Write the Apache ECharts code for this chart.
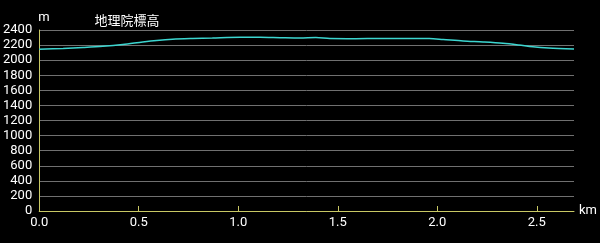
<!DOCTYPE html>
<html><head><meta charset="utf-8">
<script src="https://cdn.jsdelivr.net/npm/echarts@6/dist/echarts.min.js"></script>
<style>html,body{margin:0;padding:0;background:#000;}#c{width:600px;height:243px;}</style>
</head><body><div id="c"></div>
<script>
const distKm = [0, 0.12, 0.22, 0.32, 0.42, 0.52, 0.59, 0.67, 0.77, 0.87, 1.01, 1.11, 1.21, 1.31, 1.39, 1.46, 1.59, 1.71, 1.86, 1.96, 2.03, 2.13, 2.23, 2.33, 2.41, 2.48, 2.56, 2.687];
const elevM = [2145, 2155, 2168, 2184, 2208, 2241, 2261, 2277, 2287, 2294, 2303, 2303, 2298, 2294, 2300, 2287, 2285, 2287, 2287, 2287, 2274, 2254, 2241, 2224, 2201, 2177, 2161, 2148];
const xTicks = [0, 0.5, 1.0, 1.5, 2.0, 2.5];
const title = '地理院標高';

const chart = echarts.init(document.getElementById('c'));
const axisColor = '#c8c864';
chart.setOption({
  backgroundColor: '#000',
  animation: false,
  title: {text: title, left: 127, top: 14, textAlign: 'center',
    textStyle: {color: '#fff', fontSize: 13, fontWeight: 'normal', fontFamily: 'Noto Sans CJK JP'}, padding: 0},
  grid: {left: 36, right: 24, top: 30, bottom: 32},
  xAxis: {
    type: 'value', min: 0, max: 2.687, interval: 0.5,
    name: 'km', nameLocation: 'end', nameGap: 5,
    nameTextStyle: {color: '#fff', fontSize: 13, fontFamily: 'Roboto'},
    axisLine: {lineStyle: {color: axisColor, width: 1}},
    axisTick: {show: true, inside: true, length: 5, lineStyle: {color: axisColor}, customValues: xTicks},
    axisLabel: {color: '#fff', fontSize: 13, fontFamily: 'Roboto', margin: 5,
      customValues: xTicks, formatter: v => v.toFixed(1)},
    splitLine: {show: false}
  },
  yAxis: {
    type: 'value', min: 0, max: 2400, interval: 200,
    name: 'm', nameLocation: 'end', nameGap: 6,
    nameTextStyle: {color: '#fff', fontSize: 13, fontFamily: 'Roboto', align: 'left', padding: [0,0,0,-1]},
    axisLine: {show: true, lineStyle: {color: axisColor, width: 1}},
    axisTick: {show: false},
    axisLabel: {color: '#fff', fontSize: 13, fontFamily: 'Roboto', margin: 7, formatter: v => String(v)},
    splitLine: {show: true, lineStyle: {color: '#707070', width: 1}}
  },
  series: [{
    type: 'line', data: distKm.map((d, i) => [d, elevM[i]]),
    showSymbol: false, smooth: 0.3,
    lineStyle: {color: '#3cd6d0', width: 1.5}
  }]
});
</script></body></html>
